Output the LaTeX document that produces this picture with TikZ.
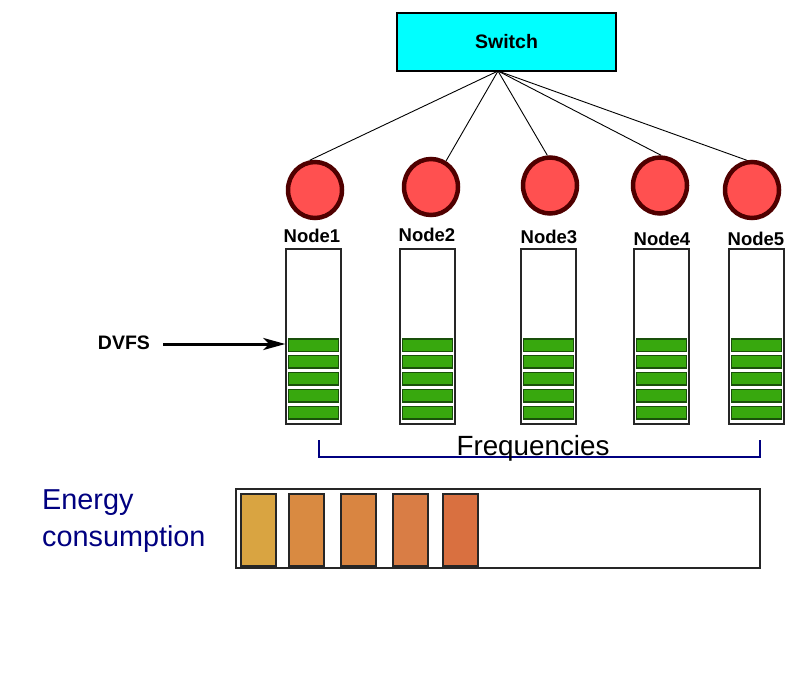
\documentclass[tikz,border=0pt]{standalone}
\usepackage{fontspec}
\setmainfont{Liberation Sans}
\usetikzlibrary{arrows.meta,shapes.geometric}
\definecolor{cyanfill}{RGB}{0,255,255}
\definecolor{nodered}{RGB}{255,80,80}
\definecolor{darkred}{RGB}{80,0,0}
\definecolor{bargreen}{RGB}{56,168,14}
\definecolor{bardark}{RGB}{25,80,10}
\definecolor{navy}{RGB}{0,0,128}
\definecolor{e1}{RGB}{217,164,65}
\definecolor{e2}{RGB}{217,138,65}
\definecolor{e3}{RGB}{217,133,65}
\definecolor{e4}{RGB}{217,125,69}
\definecolor{e5}{RGB}{217,112,64}
\tikzset{
  lbl/.style={font=\fontsize{18.5}{22}\selectfont\bfseries, inner sep=0pt},
  circ/.style={ellipse, draw=darkred, line width=4.5pt, fill=nodered},
  tallbox/.style={draw=black!85, line width=2.2pt, fill=white},
  gbar/.style={draw=bardark, line width=1.4pt, fill=bargreen},
  ebar/.style={draw=black!85, line width=2.2pt},
}
\begin{document}
\begin{tikzpicture}[x=1pt,y=-1pt]
\useasboundingbox (0,0) rectangle (800,698);
% switch
\node[draw=black, line width=1.6pt, fill=cyanfill, minimum width=219pt, minimum height=58pt, inner sep=0pt, font=\fontsize{19.5}{22}\selectfont\bfseries] (sw) at (506.5,42) {Switch};
\coordinate (swb) at (498,71);
% circles
\foreach \i/\cx/\cy in {1/315/190, 2/431/187, 3/550/185.5, 4/660/185.5, 5/752/190}{
  \node[circ, minimum width=54pt, minimum height=56pt, inner sep=0pt] (c\i) at (\cx,\cy) {};
}
\draw[black, line width=0.9pt] (swb) -- (c1.100);
\draw[black, line width=0.9pt] (swb) -- (c2.60);
\draw[black, line width=0.9pt] (swb) -- (c3.95);
\draw[black, line width=0.9pt] (swb) -- (c4.88);
\draw[black, line width=0.9pt] (swb) -- (c5.100);
% labels
\node[lbl] (l1) at (312,236) {Node1};
\node[lbl] (l2) at (427,235) {Node2};
\node[lbl] (l3) at (549,237) {Node3};
\node[lbl] (l4) at (662,239) {Node4};
\node[lbl] (l5) at (756,239) {Node5};
% tall boxes with green bars
\foreach \i/\x in {1/286, 2/400, 3/521, 4/634, 5/729}{
  \draw[tallbox] (\x,249) rectangle ++(55,175);
  \foreach \y in {339,355.5,372.5,389.5,406.5}{
    \draw[gbar] (\x+2.5,\y) rectangle ++(50,12.5);
  }
}
\node[inner sep=0pt] (box1) at (286,344) {};
% DVFS
\node[lbl, font=\fontsize{19.5}{22}\selectfont\bfseries] (dvfs) at (124,343) {DVFS};
\draw[-{Stealth[length=22pt,width=12pt,inset=6pt]}, line width=3pt] (163,344) -- (box1);
% frequencies bracket
\draw[navy, line width=1.2pt] (319,440) -- (319,457) -- (760,457) -- (760,440);
\node[inner sep=0pt, font=\fontsize{27.8}{30}\selectfont, anchor=base] (freq) at (533,455.5) {Frequencies};
% energy
\node[inner sep=0pt, anchor=west, align=left, text=navy, font=\fontsize{28.8}{37}\selectfont] (en) at (42,521.5) {Energy\\consumption};
\draw[draw=black!85, line width=2pt, fill=white] (236,489) rectangle (760,568);
\draw[ebar, fill=e1] (241,494) rectangle (276,566);
\draw[ebar, fill=e2] (289,494) rectangle (324,566);
\draw[ebar, fill=e3] (341,494) rectangle (376,566);
\draw[ebar, fill=e4] (393,494) rectangle (428,566);
\draw[ebar, fill=e5] (443,494) rectangle (478,566);
\end{tikzpicture}
\end{document}
